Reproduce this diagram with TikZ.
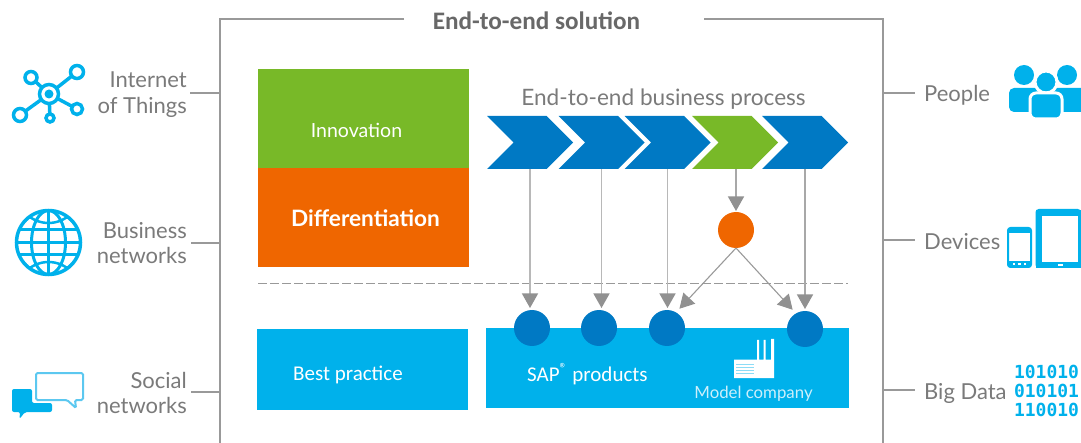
\documentclass[tikz,border=0pt]{standalone}
\usepackage{fontspec}
\setmainfont{Lato}
\newfontfamily\carl{Carlito}
\newfontfamily\bitsfont{DejaVu Sans Mono}
\usetikzlibrary{arrows.meta,shapes.symbols}
\definecolor{chevblue}{HTML}{0079C4}
\definecolor{sapgreen}{HTML}{78B928}
\definecolor{saporange}{HTML}{EF6600}
\definecolor{sapcyan}{HTML}{00B1EB}
\definecolor{softcyan}{HTML}{5CC8F0}
\definecolor{labelgray}{HTML}{7A7A7A}
\definecolor{framegray}{HTML}{999999}
\definecolor{headgray}{HTML}{919191}
\definecolor{pale}{HTML}{CDEFFB}
\tikzset{
  x=1pt,y=-1pt,
  chev/.style={signal,signal from=west,signal to=east,signal pointer angle=90,minimum width=86pt,minimum height=53pt,inner sep=0pt,outer sep=0pt},
  box/.style={anchor=north west,inner sep=0pt,outer sep=0pt},
  dotn/.style={circle,minimum size=36pt,inner sep=0pt,outer sep=0pt},
  lab/.style={text=labelgray,inner sep=0pt,font=\fontsize{22}{25.5}\selectfont},
  labr/.style={lab,anchor=east,align=right},
  labl/.style={lab,anchor=west},
  tick/.style={draw=framegray,line width=2pt},
  framel/.style={draw=framegray,line width=2.5pt},
  flow/.style={draw=#1,line width=1.3pt,-{Triangle[length=14.5pt,width=16pt,fill=headgray,color=headgray]}},
  icon/.style={draw=sapcyan,line width=3.5pt,fill=none},
  whitelab/.style={text=white,inner sep=0pt},
}
\begin{document}
\begin{tikzpicture}
\useasboundingbox (0,0) rectangle (1081,443);
% frame
\coordinate (ftl) at (220,19);
\coordinate (ftr) at (883,19);
\coordinate (fbl) at (220,443);
\coordinate (fbr) at (883,443);
\coordinate (ftlend) at (404,19);
\coordinate (ftrend) at (704,19);
\draw[framel] (ftlend) -- (ftl) -- (fbl);
\draw[framel] (ftrend) -- (ftr) -- (fbr);
\node[inner sep=0pt,text=labelgray!85!black,font=\carl\bfseries\fontsize{25.2}{28}\selectfont] (title) at (536.5,20.5) {End-to-end solution};

% left labels
\node[labr] (iot) at (187,94.5) {Internet\\of Things};
\node[labr] (biz) at (187,243) {Business\\networks};
\node[labr] (soc) at (187,393) {Social\\networks};
\coordinate (tl1) at (220,93);
\coordinate (tl2) at (220,243);
\coordinate (tl3) at (220,392);
\draw[tick,shorten <=3pt] (iot.east |- tl1) -- (tl1);
\draw[tick,shorten <=4pt] (biz.east |- tl2) -- (tl2);
\draw[tick,shorten <=4pt] (soc.east |- tl3) -- (tl3);

% right labels
\node[labl] (peo) at (924,95) {People};
\node[labl] (dev) at (924,242) {Devices};
\node[labl] (big) at (924,393) {Big Data};
\coordinate (tr1) at (883,93);
\coordinate (tr2) at (883,240);
\coordinate (tr3) at (883,390);
\draw[tick,shorten >=9pt] (tr1) -- (peo.west |- tr1);
\draw[tick,shorten >=9pt] (tr2) -- (dev.west |- tr2);
\draw[tick,shorten >=9pt] (tr3) -- (big.west |- tr3);

% boxes
\node[box,fill=sapgreen,minimum width=211pt,minimum height=99pt] (inn) at (258,69) {};
\node[box,fill=saporange,minimum width=211pt,minimum height=99pt] (dif) at (258,168) {};
\node[box,fill=sapcyan,minimum width=211pt,minimum height=81pt] (best) at (257,329) {};
\node[box,fill=sapcyan,minimum width=363pt,minimum height=80pt] (sap) at (486,328) {};
\node[whitelab,font=\fontsize{19.5}{22}\selectfont] (inntxt) at (356.5,130) {Innovation};
\node[whitelab,font=\bfseries\fontsize{22.6}{25}\selectfont] (diftxt) at (365.5,218.5) {Differentiation};
\node[whitelab,font=\carl\fontsize{21}{24}\selectfont,anchor=west] (besttxt) at (293,375) {Best practice};
\node[whitelab,font=\carl\fontsize{21}{24}\selectfont,anchor=west] (saptxt) at (527,374) {SAP\textsuperscript{®} products};
\node[inner sep=0pt,text=pale,font=\fontsize{16.8}{20}\selectfont] (modeltxt) at (753.5,394) {Model company};

% process
\node[lab,font=\fontsize{22.6}{26}\selectfont] (proc) at (663.5,99) {End-to-end business process};
\node[chev,fill=chevblue] (c1) at (530,142.5) {};
\node[chev,fill=chevblue] (c2) at (601.5,142.5) {};
\node[chev,fill=chevblue] (c3) at (667.5,142.5) {};
\node[chev,fill=sapgreen] (c4) at (735,142.5) {};
\node[chev,fill=chevblue] (c5) at (805,142.5) {};

% dashed divider
\coordinate (dv1) at (258,284);
\coordinate (dv2) at (848,284);
\draw[draw=framegray,line width=1pt,dash pattern=on 9pt off 3pt] (dv1) -- (dv2);

% dots
\node[dotn,fill=chevblue] (d1) at (532,328) {};
\node[dotn,fill=chevblue] (d2) at (599,328) {};
\node[dotn,fill=chevblue] (d3) at (667,328) {};
\node[dotn,fill=chevblue] (d4) at (805,329) {};
\node[dotn,fill=saporange] (or) at (736,230) {};

% connectors
\draw[flow=framegray!70,shorten >=2pt] (c1.south) -- (c1.south |- d1.north);
\draw[flow=framegray!70,shorten >=2pt] (c2.south) -- (c2.south |- d2.north);
\draw[flow=framegray!70,shorten >=2pt] (c3.south) -- (c3.south |- d3.north);
\draw[flow=framegray!85,shorten >=1pt] (or.north |- c4.south) -- (or.north);
\draw[flow=framegray!85,shorten >=2pt] (c5.south) -- (c5.south |- d4.north);
\draw[flow=framegray,line width=1.1pt,shorten >=5pt] (or.south) -- (d3.60);
\draw[flow=framegray,line width=1.1pt,shorten >=5pt] (or.south) -- (d4.120);

% --- icons ---
% Internet of Things
\draw[icon] (49,94) -- (31,77.5) (49,94) -- (77,72) (49,94) -- (20,115) (49,94) -- (77,109) (49,94) -- (50,118);
\foreach \a/\b/\r in {31/77.5/6,77/72/6.5,20/115/6.5,77/109/5.5,50/118/4}{\draw[icon,fill=white] (\a,\b) circle (\r);}
\draw[icon,fill=white] (49,94) circle (9.5);
\fill[sapcyan] (49,94) circle (4.5);

% globe
\begin{scope}[line width=3pt]
\draw[sapcyan,line width=3.5pt] (48.5,242.5) circle (32);
\begin{scope}
\clip (48.5,242.5) circle (32);
\draw[sapcyan] (48.5,210) -- (48.5,275);
\draw[sapcyan] (48.5,242.5) ellipse (17 and 32);
\draw[sapcyan] (15,230) -- (82,230) (15,242.5) -- (82,242.5) (15,255) -- (82,255);
\draw[sapcyan,line width=2.5pt] (48.5,191) circle (32);
\draw[sapcyan,line width=2.5pt] (48.5,294) circle (32);
\end{scope}
\end{scope}

% social
\fill[sapcyan,rounded corners=2pt] (12,389) -- (32,389) -- (32,403) -- (52,403) -- (52,412) -- (25,412) -- (19.5,419) -- (20,412) -- (12,412) -- cycle;
\draw[softcyan,line width=2pt,rounded corners=1.5pt,fill=white] (36,373) -- (83,373) -- (83,400) -- (75,400) -- (76,408) -- (67,400) -- (36,400) -- cycle;

% people
\fill[sapcyan] (1024,75) circle (10);
\fill[sapcyan] (1067,75) circle (10);
\fill[sapcyan,rounded corners=5pt] (1009,88) rectangle (1040,112);
\fill[sapcyan,rounded corners=5pt] (1052,88) rectangle (1087,112);
\draw[white,line width=3pt,fill=sapcyan] (1046,82) circle (11);
\draw[white,line width=3pt,fill=sapcyan,rounded corners=6pt] (1030,93) rectangle (1062,119);

% devices
\draw[sapcyan,line width=2pt,rounded corners=2.5pt] (1008,228) rectangle (1031,267);
\fill[sapcyan] (1008,228) rectangle (1031,233);
\fill[sapcyan] (1008,261) rectangle (1031,267);
\draw[sapcyan,line width=3pt,rounded corners=2pt] (1037,210.5) rectangle (1079.5,266.5);
\fill[sapcyan] (1037,210) rectangle (1081,216);
\fill[sapcyan] (1037,262) rectangle (1081,268);
\fill[sapcyan] (1036,210) rectangle (1042,268);
\fill[white] (1017.5,263) rectangle (1021,265.5);
\fill[white] (1012.5,263.5) rectangle (1014.5,265);
\fill[white] (1024,263.5) rectangle (1026,265);
\fill[white] (1058,264) rectangle (1063,266);

% big data
\node[inner sep=0pt,text=sapcyan,font=\bitsfont\bfseries\fontsize{18}{19}\selectfont,align=center] (bits) at (1046.5,390.5) {101010\\010101\\110010};

% factory
\fill[white] (734,359.5) -- (757,359.5) -- (757,340) -- (759,340) -- (759,359.5) -- (763.5,359.5) -- (763.5,340) -- (765.5,340) -- (765.5,359.5) -- (771,359.5) -- (771,339) -- (774,339) -- (774,378) -- (734,378) -- cycle;
\foreach \yy in {364,367,370,373}{\draw[sapcyan!45!white,line width=1pt] (736,\yy) -- (754,\yy);}
\end{tikzpicture}
\end{document}
